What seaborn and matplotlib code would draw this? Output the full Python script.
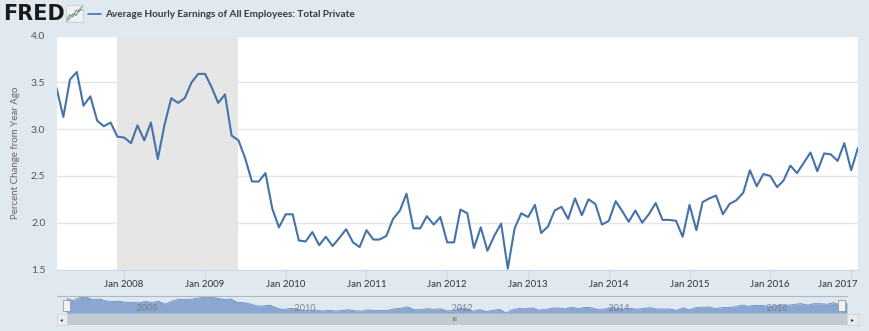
import numpy as np
import pandas as pd
import matplotlib
matplotlib.use("Agg")
import matplotlib.pyplot as plt
import matplotlib.transforms as mtransforms
import seaborn as sns
from matplotlib.patches import Rectangle
from matplotlib.lines import Line2D

# ---------------- data ----------------
series_name = "Average Hourly Earnings of All Employees: Total Private"
y_label = "Percent Change from Year Ago"
start_month = "2007-03-01"
pct_2007 = [3.44, 3.13, 3.53, 3.61, 3.25, 3.35, 3.09, 3.03, 3.07, 2.92]
pct_2008 = [2.91, 2.85, 3.04, 2.88, 3.07, 2.68, 3.04, 3.33, 3.28, 3.33, 3.50, 3.59]
pct_2009 = [3.59, 3.44, 3.28, 3.37, 2.93, 2.88, 2.69, 2.44, 2.44, 2.53, 2.15, 1.95]
pct_2010 = [2.09, 2.09, 1.81, 1.80, 1.90, 1.76, 1.85, 1.75, 1.84, 1.93, 1.79, 1.74]
pct_2011 = [1.92, 1.82, 1.82, 1.86, 2.04, 2.13, 2.31, 1.94, 1.94, 2.07, 1.98, 2.06]
pct_2012 = [1.79, 1.79, 2.14, 2.10, 1.73, 1.95, 1.70, 1.86, 1.99, 1.51, 1.94, 2.10]
pct_2013 = [2.06, 2.19, 1.89, 1.96, 2.13, 2.17, 2.04, 2.26, 2.08, 2.25, 2.20, 1.98]
pct_2014 = [2.02, 2.23, 2.13, 2.01, 2.13, 2.00, 2.09, 2.21, 2.03, 2.03, 2.02, 1.85]
pct_2015 = [2.19, 1.92, 2.22, 2.26, 2.29, 2.09, 2.20, 2.24, 2.32, 2.56, 2.39, 2.52]
pct_2016 = [2.50, 2.38, 2.45, 2.61, 2.53, 2.64, 2.75, 2.55, 2.74, 2.73, 2.66, 2.85]
pct_2017 = [2.56, 2.80]

recession_start = "2007-12-01"
recession_end = "2009-06-01"
tick_years = [2008, 2009, 2010, 2011, 2012, 2013, 2014, 2015, 2016, 2017]
tick_labels = ["Jan %d" % y for y in tick_years]
nav_years = [2008, 2010, 2012, 2014, 2016]
y_ticks = [1.5, 2.0, 2.5, 3.0, 3.5, 4.0]
y_tick_labels = ["%.1f" % v for v in y_ticks]
logo_line_a = [1, 2, 1.5, 3, 2.6, 4]
logo_line_b = [0.5, 1.2, 2.2, 1.8, 3.2, 3.0]

pct_change = (pct_2007 + pct_2008 + pct_2009 + pct_2010 + pct_2011 + pct_2012
              + pct_2013 + pct_2014 + pct_2015 + pct_2016 + pct_2017)
dates = pd.date_range(start_month, periods=len(pct_change), freq="MS")
df = pd.DataFrame({"date": dates, "value": pct_change})

# ---------------- style ----------------
BG = "#e1e9f0"
LINE = "#4572A7"
sns.set_theme(style="white")
plt.rcParams["font.family"] = ["Lato", "DejaVu Sans"]

W, H = 869, 331
fig = plt.figure(figsize=(W / 100, H / 100), dpi=100, facecolor=BG)


def px_axes(x0, y0, x1, y1):
    return fig.add_axes([x0 / W, 1 - y1 / H, (x1 - x0) / W, (y1 - y0) / H])


def fx(x):
    return x / W


def fy(y):
    return 1 - y / H


# ---------------- main axes ----------------
ax = px_axes(56.5, 35.5, 858, 269.5)
ax.set_facecolor("white")
ax.axvspan(pd.Timestamp(recession_start), pd.Timestamp(recession_end),
           color="#e6e6e6", lw=0, zorder=0)
sns.lineplot(data=df, x="date", y="value", ax=ax, color=LINE, lw=1.5, zorder=3)
ax.set_xlim(dates[0], dates[-1])
ax.set_ylim(1.5, 4.0)
ax.set_yticks(y_ticks)
ax.set_yticklabels(y_tick_labels)
ax.set_xticks([pd.Timestamp("%d-01-01" % y) for y in tick_years])
ax.set_xticklabels(tick_labels)
ax.set_axisbelow(True)
ax.grid(axis="y", color="#e6e6e6", lw=1)
ax.grid(axis="x", visible=False)
for s in ["top", "right", "left"]:
    ax.spines[s].set_visible(False)
ax.spines["bottom"].set_color("#ccd6eb")
ax.spines["bottom"].set_linewidth(0.8)
ax.tick_params(axis="x", length=7, width=0.8, color="#ccd6eb", pad=0.5,
               labelsize=7, labelcolor="#333333", bottom=True)
ax.tick_params(axis="y", length=0, pad=8, labelsize=7.5, labelcolor="#555555")
# keep the last label inside the figure, as the reference does
last = ax.get_xticklabels()[-1]
last.set_transform(last.get_transform()
                   + mtransforms.ScaledTranslation(-13 / 100, 0, fig.dpi_scale_trans))
ax.set_xlabel("")
ax.set_ylabel(y_label, fontsize=7, color="#666666")
ax.yaxis.set_label_coords((19.5 - 56.5) / (858 - 56.5), 0.5)

# ---------------- header ----------------
fig.text(fx(3), fy(14.5), "FRED", fontsize=15, fontweight="heavy",
         family="DejaVu Sans", color="#1a1a1a", va="center", ha="left")
logo = px_axes(66, 5, 83, 22)
logo.set_facecolor("#eef0f2")
logo.plot(logo_line_a, color="#7aa84a", lw=0.8)
logo.plot(logo_line_b, color="#6b93c6", lw=0.8)
logo.set_xticks([]); logo.set_yticks([])
for s in logo.spines.values():
    s.set_color("#c8c8c8"); s.set_linewidth(0.5)
fig.add_artist(Line2D([fx(88), fx(101)], [fy(14), fy(14)], color=LINE, lw=1.2))
fig.text(fx(105), fy(14.5), series_name, fontsize=7.2, fontweight="bold",
         color="#3a3a3a", va="center", ha="left")

# ---------------- navigator ----------------
nav = px_axes(66.5, 296.5, 847, 313.3)
nav.set_facecolor("#c6d7ec")
lo, hi = min(pct_change), max(pct_change)
nav.fill_between(dates, pct_change, lo - 0.05, color="#8aa7d1", lw=0)
sns.lineplot(x=dates, y=pct_change, ax=nav, color="#6a8fc3", lw=0.6)
nav.set_xlim(dates[0], dates[-1])
nav.set_ylim(lo - 0.05, hi + 0.08)
nav.axis("off")
for yr in nav_years:
    nav.text(pd.Timestamp("%d-01-01" % yr), 0.28, "  %d" % yr, fontsize=6.5,
             color="#76828f", ha="left", va="center",
             transform=nav.get_xaxis_transform())
fig.add_artist(Line2D([fx(56.5), fx(847)], [fy(296), fy(296)], color="#b2b8c0", lw=0.8))
for hx in (66.5, 841.5):
    fig.add_artist(Rectangle((fx(hx - 3.5), fy(311)), 7 / W, 11 / H,
                             facecolor="#f2f2f2", edgecolor="#9a9a9a", lw=0.6))

# scrollbar
fig.add_artist(Rectangle((fx(57), fy(325)), (858 - 57) / W, 11 / H,
                         facecolor="#e6e9ec", edgecolor="none"))
fig.add_artist(Rectangle((fx(66.5), fy(325)), (847 - 66.5) / W, 11 / H,
                         facecolor="#c1c9d1", edgecolor="none"))
for bx0, bx1, arrow in ((57, 66.5, "\u25C2"), (847, 858, "\u25B8")):
    fig.add_artist(Rectangle((fx(bx0), fy(325)), (bx1 - bx0) / W, 11 / H,
                             facecolor="#ebebeb", edgecolor="#cccccc", lw=0.5))
    fig.text(fx((bx0 + bx1) / 2), fy(319.5), arrow, fontsize=4, color="#333333",
             ha="center", va="center", family="DejaVu Sans")
fig.text(fx(455), fy(319.5), "III", fontsize=4, color="#555555",
         ha="center", va="center", family="DejaVu Sans")

fig.savefig("out.png", dpi=100, facecolor=BG)
